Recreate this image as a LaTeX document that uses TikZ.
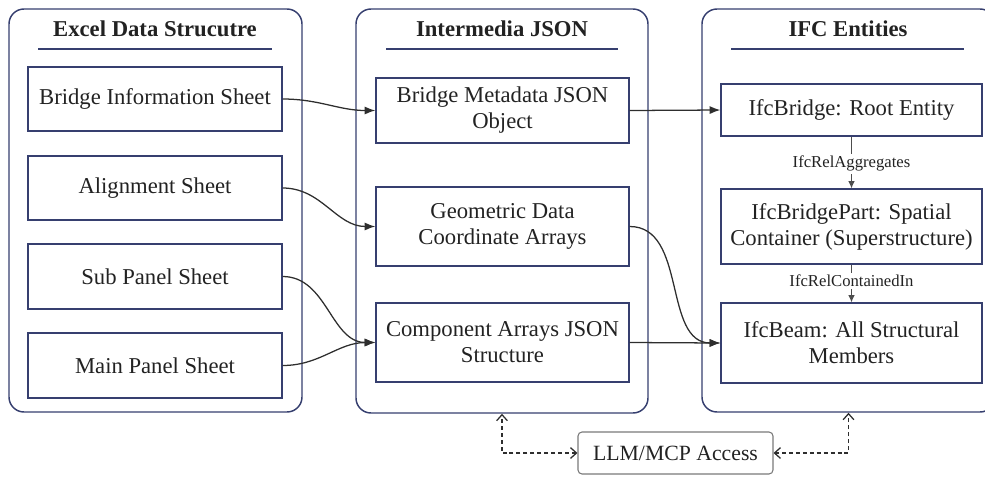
\documentclass[tikz,border=0pt]{standalone}
\usepackage{fontspec}
\setmainfont{Liberation Serif}
\usetikzlibrary{arrows.meta}
\definecolor{navy}{HTML}{363F6F}
\definecolor{conn}{HTML}{2E2E2E}
\definecolor{txt}{HTML}{222222}
\definecolor{llmgray}{HTML}{7A7A7A}
\begin{document}
\begin{tikzpicture}[x=0.75pt,y=-0.75pt,
  panel/.style={draw=navy, line width=1.1pt, rounded corners=11.25pt, inner sep=0pt},
  box/.style={draw=navy, line width=0.95pt, inner sep=0pt, align=center, text=txt,
    font=\fontsize{17}{19.5}\selectfont},
  ptitle/.style={font=\bfseries\fontsize{17}{19.5}\selectfont, text=txt, inner sep=0pt},
  uline/.style={draw=navy, line width=0.95pt},
  flow/.style={draw=conn, line width=0.95pt, -{Latex[length=8pt,width=6pt]}},
  rel/.style={draw=conn!85, line width=0.75pt, -{Latex[length=5.5pt,width=5pt]}},
  rellab/.style={fill=white, inner sep=1.5pt, text=txt, font=\fontsize{12.5}{14}\selectfont},
  dsh/.style={draw=conn, line width=0.95pt, dash pattern=on 3pt off 2.2pt,
    {Straight Barb[length=4.5pt,width=8pt]}-{Straight Barb[length=4.5pt,width=8pt]}},
  llmbox/.style={draw=llmgray, line width=0.8pt, rounded corners=3pt, inner sep=0pt, text=txt,
    font=\fontsize{16.3}{18}\selectfont}
]
\useasboundingbox (0,0) rectangle (985,476);
\clip (0,0) rectangle (985,476);

% panels
\node[panel, minimum width=219.75pt, minimum height=302.25pt] (lp) at (155.5,210.5) {};
\node[panel, minimum width=219pt, minimum height=303pt] (mp) at (502,211) {};
\node[panel, minimum width=219.75pt, minimum height=302.25pt] (rp) at (848.5,210.5) {};

% titles
\node[ptitle] (lt) at (155,29) {Excel Data Strucutre};
\node[ptitle] (mt) at (502,29) {Intermedia JSON};
\node[ptitle] (rt) at (848,29) {IFC Entities};
\draw[uline] (38,49) -- (272,49);
\draw[uline] (386,49) -- (618,49);
\draw[uline] (731,49) -- (964,49);

% left boxes
\node[box, minimum width=190.5pt, minimum height=48pt] (l1) at (155,99) {Bridge Information Sheet};
\node[box, minimum width=190.5pt, minimum height=48pt] (l2) at (155,188) {Alignment Sheet};
\node[box, minimum width=190.5pt, minimum height=48.75pt] (l3) at (155,276.5) {Sub Panel Sheet};
\node[box, minimum width=190.5pt, minimum height=48.75pt] (l4) at (155,365.5) {Main Panel Sheet};

% middle boxes
\node[box, minimum width=189.75pt, minimum height=48.75pt] (m1) at (502.5,110.5) {Bridge Metadata JSON\\Object};
\node[box, minimum width=189.75pt, minimum height=59.25pt] (m2) at (502.5,226.5) {Geometric Data\\Coordinate Arrays};
\node[box, minimum width=189.75pt, minimum height=59.25pt] (m3) at (502.5,342.5) {Component Arrays JSON\\Structure};

% right boxes
\node[box, minimum width=195.75pt, minimum height=39pt] (r1) at (851.5,110) {IfcBridge: Root Entity};
\node[box, minimum width=195.75pt, minimum height=56.25pt] (r2) at (851.5,226.5) {IfcBridgePart: Spatial\\Container (Superstructure)};
\node[box, minimum width=195.75pt, minimum height=60pt] (r3) at (851.5,343) {IfcBeam: All Structural\\Members};

% LLM box
\node[llmbox, minimum width=146.25pt, minimum height=31.5pt] (llm) at (675.5,453) {LLM/MCP Access};

% flows
\draw[flow] (l1.east) to[out=0,in=180] (m1.west);
\draw[flow] (l2.east) to[out=0,in=180] (m2.west);
\draw[flow] (l3.east) to[out=0,in=180] (m3.west);
\draw[flow] (l4.east) to[out=0,in=180] (m3.west);
\draw[flow] (m1.east) -- (r1.west);
\draw[flow] (m2.east) to[out=0,in=180] (r3.west);
\draw[flow] (m3.east) -- (r3.west);

% relations
\draw[rel] (r1.south) -- node[rellab, yshift=-1pt] {IfcRelAggregates} (r2.north);
\draw[rel] (r2.south) -- node[rellab, yshift=2pt] {IfcRelContainedIn} (r3.north);

% dashed access
\draw[dsh] (llm.west) -| (mp.south);
\draw[dsh] (llm.east) -| (rp.south);
\end{tikzpicture}
\end{document}
